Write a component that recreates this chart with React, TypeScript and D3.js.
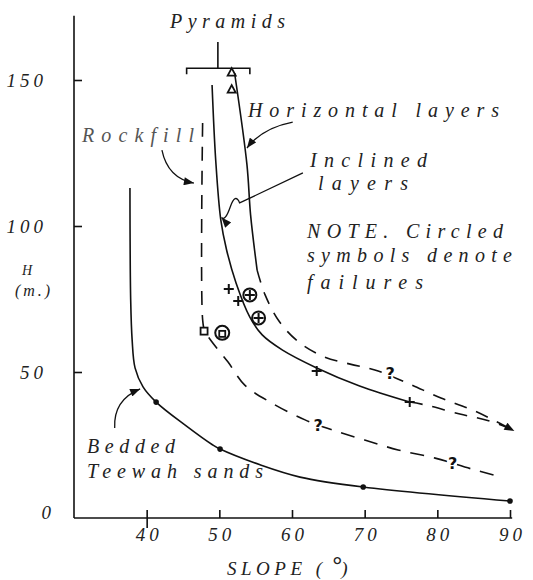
import React, { useRef, useEffect } from 'react';
import * as d3 from 'd3';

// axis ticks
const xTicks = [40, 50, 60, 70, 80, 90];
const yTicks = [0, 50, 100, 150];

// Bedded Teewah sands (solid)
const sandsSlope = [37.7, 37.8, 38.0, 38.4, 39.5, 41.3, 45.3, 49.1, 50.1, 55.6, 61.1, 69.8, 90];
const sandsH = [113, 74.7, 61.0, 51.4, 44.9, 39.7, 31.8, 25.0, 23.6, 18.2, 14.0, 10.6, 5.8];
const sandsDotSlope = [41.3, 50.1, 69.8, 90];
const sandsDotH = [39.7, 23.6, 10.6, 5.8];

// Rockfill (dashed)
const rockSlope = [47.7, 47.7, 48.0, 49.0, 51.2, 53.5, 57.2, 61.8, 65.6, 70.0, 74.6, 79.7, 84.7, 88.9];
const rockH = [135.3, 68, 64.0, 60.3, 53.4, 45.5, 39.4, 33.6, 30.1, 26.7, 23.3, 20.5, 16.8, 14.0];

// Horizontal layers: solid part, then dashed extension
const horizSlope = [52.1, 53.8, 54.3, 55.2];
const horizH = [152.4, 121, 103.8, 84.9];
const horizDashSlope = [55.2, 56.3, 58.3, 61.1, 64.5, 68.0, 71.4, 75.9, 80.5, 85.2, 90.6];
const horizDashH = [84.9, 76.4, 67.1, 59.9, 55.1, 52.7, 50.7, 46.2, 41.1, 36.6, 29.8];

// Inclined layers: solid part, then dashed extension
const inclSlope = [49.0, 49.5, 50.2, 51.0, 52.3, 54.2, 55.9, 58.7, 63.4, 69.3, 76.2];
const inclH = [148.3, 122.6, 102.1, 91.8, 80.5, 68.8, 62.7, 57.5, 51.4, 45.2, 39.7];
const inclDashSlope = [76.2, 78.4, 83.1, 87.2, 90.4];
const inclDashH = [39.7, 38.7, 35.6, 33.2, 30.2];

// observation symbols
const plusSlope = [51.3, 52.6, 63.4, 76.2];
const plusH = [78.4, 74.3, 50.3, 39.7];
const circPlusSlope = [54.2, 55.4];
const circPlusH = [76.4, 68.5];
const squareSlope = [47.9];
const squareH = [64.0];
const circSquareSlope = [50.4];
const circSquareH = [63.4];
const triSlope = [51.7, 51.7];
const triH = [152.7, 146.9];
const questSlope = [73.5, 63.6, 82.1];
const questH = [49.7, 31.8, 18.8];

// pyramids bracket (slope range, bracket height, stem top)
const pyramidRange = [45.5, 54.2];
const pyramidBracketH = 154;
const pyramidStemTop = 163;
const pyramidStemSlope = 49.8;

const x = d3.scaleLinear().domain([30, 90]).range([74, 510]);
const y = d3.scaleLinear().domain([0, 150]).range([518, 80]);

const pts = (xs: number[], ys: number[]) => xs.map((v, i) => [v, ys[i]] as [number, number]);

const curve = d3
  .line<[number, number]>()
  .x((d) => x(d[0]))
  .y((d) => y(d[1]))
  .curve(d3.curveCatmullRom.alpha(0.5));

const FONT = 'Liberation Serif, serif';
const font = { fontFamily: FONT, fontStyle: 'italic', fill: '#222' } as const;

function annot(p: number[][]) {
  // p: start, control, end in data units
  const path = d3.path();
  path.moveTo(x(p[0][0]), y(p[0][1]));
  path.quadraticCurveTo(x(p[1][0]), y(p[1][1]), x(p[2][0]), y(p[2][1]));
  return path.toString();
}

export default function App() {
  const xAxisRef = useRef<SVGGElement>(null);
  const yAxisRef = useRef<SVGGElement>(null);

  useEffect(() => {
    const styleText = (sel: any) =>
      sel
        .attr('font-family', FONT)
        .attr('font-style', 'italic')
        .attr('font-size', 19)
        .attr('letter-spacing', 4)
        .attr('fill', '#222');

    const gx = d3.select(xAxisRef.current);
    gx.call(d3.axisBottom(x).tickValues(xTicks).tickSize(-8).tickPadding(10).tickFormat(d3.format('d')) as any);
    gx.select('.domain').remove();
    gx.selectAll('.tick line').attr('stroke', '#111').attr('stroke-width', 1.6);
    gx.selectAll('.tick')
      .filter((d: any) => d === 40)
      .select('line')
      .attr('y1', 10);
    styleText(gx.selectAll('.tick text')).attr('dx', 2);

    const gy = d3.select(yAxisRef.current);
    gy.call(d3.axisLeft(y).tickValues(yTicks).tickSize(-8).tickPadding(27).tickFormat(d3.format('d')) as any);
    gy.select('.domain').remove();
    gy.selectAll('.tick line').attr('stroke', '#111').attr('stroke-width', 1.6);
    styleText(gy.selectAll('.tick text'));
    gy.selectAll('.tick')
      .filter((d: any) => d === 0)
      .call((t: any) => {
        t.select('line').remove();
        t.select('text').attr('dx', 8).attr('dy', '0.05em');
      });
  }, []);

  const stroke = '#111';
  const sw = 1.6;
  const dash = '13 10';

  return (
    <svg width={533} height={580} style={{ position: 'absolute', left: 0, top: 0, background: '#fff' }}>
      <defs>
        <marker id="arr" viewBox="0 0 10 8" refX="10" refY="4" markerWidth="11" markerHeight="8" markerUnits="userSpaceOnUse" orient="auto">
          <path d="M0,0L10,4L0,8Z" fill="#111" />
        </marker>
      </defs>

      {/* axis lines */}
      <line x1={x(30)} x2={x(30)} y1={y(0)} y2={y(172)} stroke={stroke} strokeWidth={sw} />
      <line x1={x(30)} x2={x(90.3)} y1={y(0)} y2={y(0)} stroke={stroke} strokeWidth={sw} />
      <g ref={xAxisRef} transform={`translate(0,${y(0)})`} />
      <g ref={yAxisRef} transform={`translate(${x(30)},0)`} />

      {/* curves */}
      <path d={curve(pts(sandsSlope, sandsH)) || ''} fill="none" stroke={stroke} strokeWidth={sw} />
      <path d={curve(pts(rockSlope, rockH)) || ''} fill="none" stroke={stroke} strokeWidth={sw} strokeDasharray="14 10" />
      <path d={curve(pts(horizSlope, horizH)) || ''} fill="none" stroke={stroke} strokeWidth={sw} />
      <path d={curve(pts(horizDashSlope, horizDashH)) || ''} fill="none" stroke={stroke} strokeWidth={sw} strokeDasharray={dash} markerEnd="url(#arr)" />
      <path d={curve(pts(inclSlope, inclH)) || ''} fill="none" stroke={stroke} strokeWidth={sw} />
      <path d={curve(pts(inclDashSlope, inclDashH)) || ''} fill="none" stroke={stroke} strokeWidth={sw} strokeDasharray={dash} />

      {/* sands dots */}
      {sandsDotSlope.map((s, i) => (
        <circle key={'d' + i} cx={x(s)} cy={y(sandsDotH[i])} r={2.8} fill="#111" />
      ))}

      {/* symbols */}
      {plusSlope.map((s, i) => (
        <path key={'p' + i} d="M-5,0H5M0,-5V5" transform={`translate(${x(s)},${y(plusH[i])})`} stroke={stroke} strokeWidth={2} />
      ))}
      {circPlusSlope.map((s, i) => (
        <g key={'cp' + i} transform={`translate(${x(s)},${y(circPlusH[i])})`}>
          <circle r={6.5} fill="#fff" stroke={stroke} strokeWidth={2} />
          <path d="M-5,0H5M0,-5V5" stroke={stroke} strokeWidth={2} />
        </g>
      ))}
      {squareSlope.map((s, i) => (
        <rect key={'s' + i} x={x(s) - 3.5} y={y(squareH[i]) - 3.5} width={7} height={7} fill="#fff" stroke={stroke} strokeWidth={1.8} />
      ))}
      {circSquareSlope.map((s, i) => (
        <g key={'cs' + i} transform={`translate(${x(s)},${y(circSquareH[i])})`}>
          <circle r={7} fill="#fff" stroke={stroke} strokeWidth={2} />
          <rect x={-3} y={-2} width={6} height={6} fill="#fff" stroke={stroke} strokeWidth={1.8} />
        </g>
      ))}
      {triSlope.map((s, i) => (
        <path key={'t' + i} d="M0,-4L4,3.5H-4Z" transform={`translate(${x(s)},${y(triH[i])})`} fill="#fff" stroke={stroke} strokeWidth={1.8} />
      ))}
      {questSlope.map((s, i) => (
        <text key={'q' + i} x={x(s)} y={y(questH[i]) + 6} textAnchor="middle" fontFamily="DejaVu Sans, sans-serif" fontWeight="bold" fontSize={16} fill="#111" stroke="#fff" strokeWidth={4} paintOrder="stroke">
          ?
        </text>
      ))}

      {/* pyramids bracket */}
      <path
        d={`M${x(pyramidRange[0])},${y(pyramidBracketH) + 6}V${y(pyramidBracketH)}H${x(pyramidRange[1])}V${y(pyramidBracketH) + 6}M${x(pyramidStemSlope)},${y(pyramidBracketH)}V${y(pyramidStemTop)}`}
        fill="none"
        stroke={stroke}
        strokeWidth={sw}
      />

      {/* annotation arrows */}
      <path d={annot([[60.1, 135.6], [55.9, 133.6], [53.8, 126.7]])} fill="none" stroke={stroke} strokeWidth={1.3} markerEnd="url(#arr)" />
      <path d={annot([[42.1, 126.0], [42.9, 116.4], [46.5, 114.7]])} fill="none" stroke={stroke} strokeWidth={1.3} markerEnd="url(#arr)" />
      <path
        d={`M${x(61.5)},${y(118.2)}L${x(52.8)},${y(107.9)}Q${x(52.2)},${y(111.5)} ${x(51.5)},${y(106.5)}T${x(50.3)},${y(102.9)}`}
        fill="none"
        stroke={stroke}
        strokeWidth={1.3}
        markerEnd="url(#arr)"
      />
      <path d={annot([[35.6, 30.8], [35.4, 40.4], [39.1, 44.2]])} fill="none" stroke={stroke} strokeWidth={1.3} markerEnd="url(#arr)" />

      {/* labels */}
      <g style={font} fontSize={20}>
        <text x={170} y={28} textLength={115} lengthAdjust="spacing">Pyramids</text>
        <text x={248} y={117} textLength={251} lengthAdjust="spacing">Horizontal layers</text>
        <text x={82} y={142} fill="#555" textLength={112} lengthAdjust="spacing">Rockfill</text>
        <text x={310} y={167} textLength={117} lengthAdjust="spacing">Inclined</text>
        <text x={318} y={190} textLength={90} lengthAdjust="spacing">layers</text>
        <text x={307} y={238} textLength={196} lengthAdjust="spacing">NOTE. Circled</text>
        <text x={307} y={262} textLength={205} lengthAdjust="spacing">symbols denote</text>
        <text x={307} y={289} textLength={116} lengthAdjust="spacing">failures</text>
        <text x={87} y={453} textLength={88} lengthAdjust="spacing">Bedded</text>
        <text x={87} y={478} textLength={176} lengthAdjust="spacing">Teewah sands</text>
      </g>
      <g style={font}>
        <text x={22} y={275} fontSize={14}>H</text>
        <text x={15} y={296} fontSize={16} textLength={35} lengthAdjust="spacing">(m.)</text>
        <text x={227} y={575} fontSize={19} letterSpacing={4.5}>
          SLOPE (
          <tspan fontSize={24} fontWeight="bold" dx={5} dy={-2} letterSpacing={0}>°</tspan>
          <tspan dy={2}>)</tspan>
        </text>
      </g>
    </svg>
  );
}
